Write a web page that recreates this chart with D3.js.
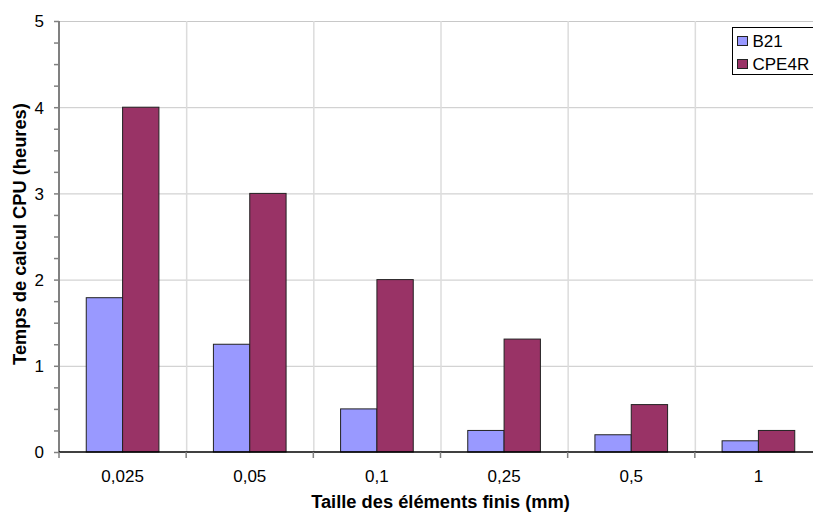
<!DOCTYPE html>
<html><head><meta charset="utf-8">
<script src="https://cdn.jsdelivr.net/npm/d3@7"></script>
<style>body{margin:0;background:#fff;overflow:hidden}svg{display:block;font-family:"Liberation Sans",Arial,sans-serif}</style>
</head><body>
<script>
const categories = ["0,025","0,05","0,1","0,25","0,5","1"];
const seriesNames = ["B21","CPE4R"];
const b21 = [1.79,1.25,0.5,0.25,0.2,0.13];
const cpe4r = [4.0,3.0,2.0,1.31,0.55,0.25];
const yTicks = [0,1,2,3,4,5];
const colors = ["#9999ff","#993366"];

const W=813,H=514;
const m={left:59,top:21,right:822,bottom:452};
const FONT="Liberation Sans, Arial, sans-serif";
const svg=d3.select("body").append("svg").attr("width",W).attr("height",H);
const x=d3.scaleBand().domain(categories).range([m.left,m.right]).paddingInner(0).paddingOuter(0);
const y=d3.scaleLinear().domain([0,5]).range([m.bottom,m.top]);
const xs=d3.scaleBand().domain(seriesNames).range([0,x.bandwidth()]).paddingOuter(0.75).paddingInner(0);

// gridlines
svg.append("g").selectAll("line").data(yTicks.slice(1)).join("line")
 .attr("x1",m.left).attr("x2",m.right).attr("y1",d=>y(d)+0.5).attr("y2",d=>y(d)+0.5)
 .attr("stroke","#c8c8c8").attr("stroke-width",1);
svg.append("g").selectAll("line").data(categories.slice(1)).join("line")
 .attr("x1",d=>x(d)+0.5).attr("x2",d=>x(d)+0.5).attr("y1",m.top).attr("y2",m.bottom)
 .attr("stroke","#dcdcdc").attr("stroke-width",1.5);

// bars
const data=categories.map((c,i)=>({c,vals:[b21[i],cpe4r[i]]}));
const g=svg.append("g").selectAll("g").data(data).join("g").attr("transform",d=>`translate(${x(d.c)},0)`);
g.selectAll("rect").data(d=>d.vals.map((v,j)=>({v,s:seriesNames[j],j}))).join("rect")
 .attr("x",d=>xs(d.s)).attr("width",xs.bandwidth())
 .attr("y",d=>y(d.v)).attr("height",d=>y(0)-y(d.v))
 .attr("fill",d=>colors[d.j]).attr("stroke","#222").attr("stroke-width",1);

// y axis
const yAxis=d3.axisLeft(y).tickValues(d3.range(0,5.01,0.25)).tickSize(5).tickFormat(d=>Number.isInteger(d)?d:"");
const ya=svg.append("g").attr("transform",`translate(${m.left},0)`).call(yAxis);
ya.attr("font-family",FONT).attr("font-size",17);
ya.select(".domain").attr("stroke","#808080").attr("stroke-width",2).attr("d",`M0,${m.top}V${m.bottom}`);
ya.selectAll(".tick line").attr("stroke","#808080").attr("stroke-width",1.5);
ya.selectAll(".tick text").attr("fill","#000").attr("x",-15).attr("dy","0.35em");

// x axis
const xa=svg.append("g").attr("transform",`translate(0,${m.bottom})`).call(d3.axisBottom(x).tickSize(0).tickPadding(18));
xa.attr("font-family",FONT).attr("font-size",17);
xa.select(".domain").attr("stroke","#000").attr("stroke-width",1.5).attr("d",`M${m.left},0H${m.right}`);
xa.selectAll(".tick text").attr("fill","#000");
svg.append("g").selectAll("line").data(categories).join("line")
 .attr("x1",d=>x(d)).attr("x2",d=>x(d)).attr("y1",m.bottom).attr("y2",m.bottom+6)
 .attr("stroke","#808080").attr("stroke-width",1.5);

// axis titles
svg.append("text").attr("x",(m.left+m.right)/2).attr("y",508).attr("text-anchor","middle")
 .attr("font-weight","bold").attr("font-size",18.3).text("Taille des éléments finis (mm)");
svg.append("text").attr("transform",`translate(26,234) rotate(-90)`).attr("text-anchor","middle")
 .attr("font-weight","bold").attr("font-size",18.3).text("Temps de calcul CPU (heures)");

// legend
const lg=svg.append("g");
lg.append("rect").attr("x",732.5).attr("y",27.5).attr("width",82).attr("height",47).attr("fill","#fff").attr("stroke","#000");
seriesNames.forEach((s,i)=>{
  lg.append("rect").attr("x",737.5).attr("y",36.5+i*23).attr("width",10).attr("height",9).attr("fill",colors[i]).attr("stroke","#222");
  lg.append("text").attr("x",752.5).attr("y",47+i*23).attr("font-size",17).text(s);
});
</script>
</body></html>
